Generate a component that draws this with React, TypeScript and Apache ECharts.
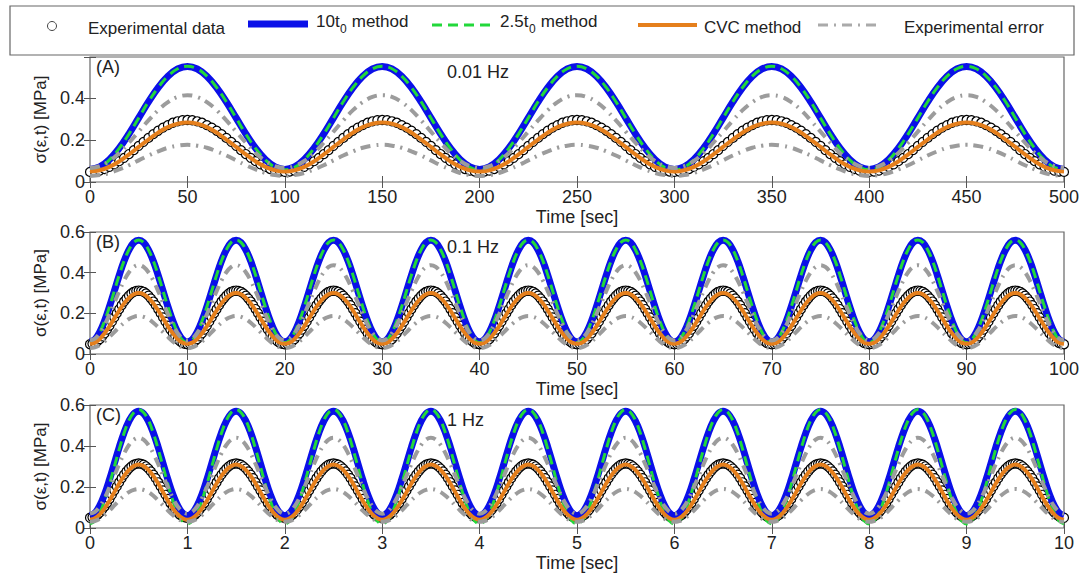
import React, { useEffect, useRef } from "react";
import * as echarts from "echarts";

// ---- Data (half cycles: trough -> peak; the falling half mirrors it) ----
// Panel A: 0.01 Hz, period 100 s, 5 cycles
const expA = [0.048, 0.05, 0.054, 0.062, 0.072, 0.084, 0.099, 0.115, 0.133, 0.152, 0.172, 0.191, 0.21, 0.228, 0.244, 0.259, 0.271, 0.282, 0.289, 0.294, 0.295];
const m10A = [0.06, 0.072, 0.107, 0.161, 0.229, 0.305, 0.381, 0.449, 0.503, 0.538, 0.55];
const m25A = [0.058, 0.07, 0.105, 0.16, 0.228, 0.305, 0.382, 0.45, 0.504, 0.539, 0.551];
const cvcA = [0.05, 0.056, 0.072, 0.098, 0.131, 0.167, 0.202, 0.235, 0.261, 0.277, 0.283];
const errUpA = [0.067, 0.076, 0.1, 0.138, 0.187, 0.24, 0.293, 0.342, 0.38, 0.405, 0.413];
const errLoA = [0.029, 0.033, 0.043, 0.06, 0.08, 0.103, 0.126, 0.146, 0.163, 0.173, 0.177];

// Panel B: 0.1 Hz, period 10 s, 10 cycles
const expB = [0.048, 0.05, 0.054, 0.062, 0.073, 0.087, 0.102, 0.12, 0.139, 0.159, 0.18, 0.201, 0.221, 0.24, 0.258, 0.273, 0.287, 0.298, 0.306, 0.31, 0.312];
const m10B = [0.06, 0.072, 0.108, 0.163, 0.233, 0.31, 0.387, 0.457, 0.512, 0.548, 0.56];
const m25B = [0.056, 0.069, 0.106, 0.162, 0.232, 0.31, 0.388, 0.458, 0.513, 0.549, 0.561];
const cvcB = [0.05, 0.056, 0.074, 0.102, 0.136, 0.175, 0.214, 0.249, 0.276, 0.294, 0.3];
const errUpB = [0.067, 0.076, 0.102, 0.143, 0.195, 0.252, 0.309, 0.361, 0.402, 0.428, 0.437];
const errLoB = [0.029, 0.033, 0.044, 0.062, 0.084, 0.108, 0.132, 0.154, 0.172, 0.183, 0.187];

// Panel C: 1 Hz, period 1 s, 10 cycles
const expC = [0.05, 0.052, 0.056, 0.064, 0.075, 0.089, 0.105, 0.122, 0.142, 0.162, 0.183, 0.203, 0.223, 0.243, 0.26, 0.276, 0.29, 0.301, 0.309, 0.313, 0.315];
const m10C = [0.06, 0.073, 0.109, 0.165, 0.236, 0.315, 0.394, 0.465, 0.521, 0.558, 0.57];
const m25C = [0.02, 0.034, 0.073, 0.135, 0.213, 0.299, 0.385, 0.463, 0.525, 0.564, 0.578];
const cvcC = [0.04, 0.047, 0.066, 0.096, 0.133, 0.175, 0.217, 0.254, 0.284, 0.303, 0.31];
const errUpC = [0.07, 0.079, 0.105, 0.146, 0.198, 0.255, 0.312, 0.364, 0.405, 0.431, 0.44];
const errLoC = [0.03, 0.034, 0.045, 0.063, 0.085, 0.11, 0.135, 0.157, 0.175, 0.186, 0.19];

const periods = [100, 10, 1];
const cycles = [5, 10, 10];
const xIntervals = [50, 10, 1];
const yMaxes = [0.595, 0.6, 0.6];
const panelLetters = ["(A)", "(B)", "(C)"];
const freqLabels = ["0.01 Hz", "0.1 Hz", "1 Hz"];
const legendNames = ["Experimental data", "10t0 method", "2.5t0 method", "CVC method", "Experimental error"];

const panelData = [
  { exp: expA, m10: m10A, m25: m25A, cvc: cvcA, up: errUpA, lo: errLoA },
  { exp: expB, m10: m10B, m25: m25B, cvc: cvcB, up: errUpB, lo: errLoB },
  { exp: expC, m10: m10C, m25: m25C, cvc: cvcC, up: errUpC, lo: errLoC },
];

// ---- layout / style ----
const FONT = "'Liberation Sans', Arial, Helvetica, sans-serif";
const gridTops = [57, 232, 405];
const gridHeights = [125, 122, 123];
const GRID_LEFT = 90;
const GRID_RIGHT = 20;
const BLUE = "#0b10e8";
const GREEN = "#22d83a";
const ORANGE = "#e57f1c";
const GRAY = "#9c9c9c";
const TXT = "#222";

const fullCycle = (half: number[]) => half.concat(half.slice(1, -1).reverse());
const toPoints = (half: number[], period: number, n: number) => {
  const cyc = fullCycle(half);
  const len = cyc.length;
  const pts: number[][] = [];
  for (let i = 0; i <= n * len; i++) pts.push([(i * period) / len, cyc[i % len]]);
  return pts;
};
const yFmt = (v: number) => {
  const k = v / 0.2;
  return Math.abs(k - Math.round(k)) < 1e-6 ? String(Math.round(k * 2) / 10) : "";
};

export default function App() {
  const ref = useRef<HTMLDivElement>(null);
  useEffect(() => {
    if (!ref.current) return;
    const chart = echarts.init(ref.current, null, { renderer: "svg" });
    const grid: any[] = [];
    const xAxis: any[] = [];
    const yAxis: any[] = [];
    const series: any[] = [];
    const tick = { show: true, inside: true, length: 6, lineStyle: { color: "#555", width: 1 } };
    for (let p = 0; p < 3; p++) {
      grid.push({ left: GRID_LEFT, right: GRID_RIGHT, top: gridTops[p], height: gridHeights[p], show: true, borderColor: "#666", borderWidth: 1.2, backgroundColor: "transparent" });
    }
    for (let p = 0; p < 3; p++) {
      xAxis.push({
        type: "value", gridIndex: p, min: 0, max: periods[p] * cycles[p], interval: xIntervals[p],
        axisLine: { show: false }, splitLine: { show: false }, axisTick: tick,
        axisLabel: { color: TXT, fontSize: 18, fontFamily: FONT, margin: 6 },
        name: "Time [sec]", nameLocation: "middle", nameGap: 26,
        nameTextStyle: { color: TXT, fontSize: 18, fontFamily: FONT },
      });
    }
    for (let p = 0; p < 3; p++) {
      xAxis.push({
        type: "value", gridIndex: p, position: "top", min: 0, max: periods[p] * cycles[p], interval: xIntervals[p],
        axisLine: { show: false }, splitLine: { show: false }, axisTick: tick, axisLabel: { show: false },
      });
    }
    for (let p = 0; p < 3; p++) {
      yAxis.push({
        type: "value", gridIndex: p, min: 0, max: yMaxes[p], interval: 0.2,
        axisLine: { show: false }, splitLine: { show: false }, axisTick: tick,
        axisLabel: { color: TXT, fontSize: 18, fontFamily: FONT, margin: 5, formatter: yFmt },
        name: "σ(ε,t) [MPa]", nameLocation: "middle", nameGap: 29,
        nameTextStyle: { color: TXT, fontSize: 17, fontFamily: FONT },
      });
    }
    for (let p = 0; p < 3; p++) {
      yAxis.push({
        type: "value", gridIndex: p, position: "right", min: 0, max: yMaxes[p], interval: 0.2,
        axisLine: { show: false }, splitLine: { show: false }, axisTick: tick, axisLabel: { show: false },
      });
    }
    for (let p = 0; p < 3; p++) {
      const d = panelData[p];
      const T = periods[p];
      const n = cycles[p];
      const common = { xAxisIndex: p, yAxisIndex: p, silent: true };
      series.push({
        ...common, type: "scatter", name: legendNames[0], data: toPoints(d.exp, T, n),
        symbol: "circle", symbolSize: 9, clip: false, z: 2,
        itemStyle: { color: "#fff", borderColor: "#000", borderWidth: 1.2, opacity: 1 },
      });
      series.push({
        ...common, type: "line", name: legendNames[1], data: toPoints(d.m10, T, n), smooth: 0.4, symbol: "none",
        lineStyle: { color: BLUE, width: 7 }, z: 3,
      });
      series.push({
        ...common, type: "line", name: legendNames[2], data: toPoints(d.m25, T, n), smooth: 0.4, symbol: "none",
        lineStyle: { color: GREEN, width: 3, type: [10, 6] }, z: 4,
      });
      series.push({
        ...common, type: "line", name: legendNames[3], data: toPoints(d.cvc, T, n), smooth: 0.4, symbol: "none",
        lineStyle: { color: ORANGE, width: 4 }, z: 5,
      });
      series.push({
        ...common, type: "line", name: legendNames[4], data: toPoints(d.up, T, n), smooth: 0.4, symbol: "none",
        lineStyle: { color: GRAY, width: 4, type: [10, 6, 2, 6] }, z: 6,
      });
      series.push({
        ...common, type: "line", name: legendNames[4] + " (lower)", data: toPoints(d.lo, T, n), smooth: 0.4, symbol: "none",
        lineStyle: { color: GRAY, width: 4, type: [10, 6, 2, 6] }, z: 6,
      });
    }

    const txt = (x: number, y: number, text: string, size = 17, align = "left") => ({
      type: "text", x, y, z: 100,
      style: { text, fill: TXT, fontSize: size, fontFamily: FONT, align, verticalAlign: "middle" },
    });
    const graphic: any[] = [
      { type: "rect", shape: { x: 10, y: 6, width: 1064, height: 49 }, style: { fill: "#fff", stroke: "#666", lineWidth: 1.2 }, z: 90 },
      { type: "circle", shape: { cx: 52, cy: 26, r: 4.5 }, style: { fill: "#fff", stroke: "#444", lineWidth: 1 }, z: 100 },
      txt(88, 28, "Experimental data"),
      { type: "line", shape: { x1: 248, y1: 24, x2: 308, y2: 24 }, style: { stroke: BLUE, lineWidth: 7 }, z: 100 },
      txt(316, 21, "10t"), txt(340, 29, "0", 12), txt(347, 21, " method"),
      { type: "line", shape: { x1: 432, y1: 25, x2: 492, y2: 25 }, style: { stroke: GREEN, lineWidth: 3, lineDash: [10, 6] }, z: 100 },
      txt(500, 21, "2.5t"), txt(529, 29, "0", 12), txt(536, 21, " method"),
      { type: "line", shape: { x1: 638, y1: 25, x2: 697, y2: 25 }, style: { stroke: ORANGE, lineWidth: 4 }, z: 100 },
      txt(704, 27, "CVC method"),
      { type: "line", shape: { x1: 818, y1: 25, x2: 878, y2: 25 }, style: { stroke: "#aaa", lineWidth: 3, lineDash: [10, 6, 2, 6] }, z: 100 },
      txt(904, 27, "Experimental error"),
    ];
    for (let p = 0; p < 3; p++) {
      graphic.push(txt(96, gridTops[p] + 10, panelLetters[p], 18));
      graphic.push(txt(447, gridTops[p] + 15, freqLabels[p], 18));
    }

    chart.setOption({
      animation: false,
      backgroundColor: "#fff",
      grid, xAxis, yAxis, series, graphic,
    });
    return () => chart.dispose();
  }, []);
  return <div ref={ref} style={{ position: "fixed", left: 0, top: 0, width: 1084, height: 574, background: "#fff" }} />;
}
